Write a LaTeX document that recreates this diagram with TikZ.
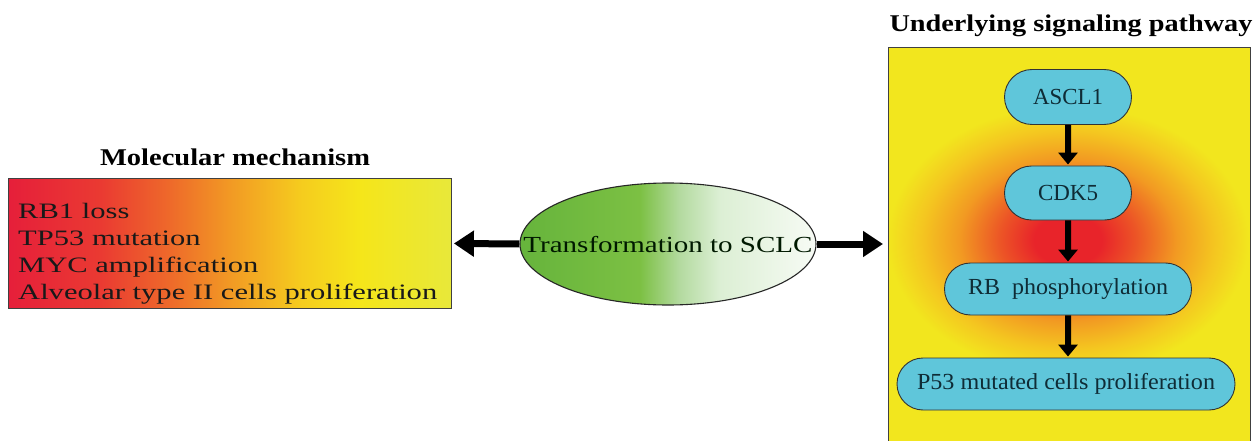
\documentclass[tikz,border=0pt]{standalone}
\usepackage{fontspec}
\setmainfont{Liberation Serif}
\usetikzlibrary{arrows.meta,shapes.geometric,shapes.misc}
\definecolor{gred}{HTML}{E8242A}
\definecolor{gredor}{HTML}{EC5426}
\definecolor{gorange}{HTML}{F29A22}
\definecolor{gyelor}{HTML}{F4C620}
\definecolor{gyel}{HTML}{F2E61E}
\definecolor{cyanbox}{HTML}{5FC6DA}
\definecolor{nodetext}{HTML}{0F2C36}
\definecolor{mr1}{HTML}{E61F3A}
\definecolor{mr2}{HTML}{EA3A32}
\definecolor{mr3}{HTML}{EE6A2A}
\definecolor{mr4}{HTML}{F29A24}
\definecolor{mr5}{HTML}{F5CC1E}
\definecolor{mr6}{HTML}{F5E61A}
\definecolor{mr7}{HTML}{E8E83A}
\definecolor{sg1}{HTML}{66B43C}
\definecolor{sg2}{HTML}{7CC043}
\definecolor{sg3}{HTML}{B3DA9F}
\definecolor{sg4}{HTML}{DCEFD4}
\definecolor{sg5}{HTML}{F7FBF5}
\pgfdeclarehorizontalshading{molgrad}{100bp}{color(0bp)=(mr1); color(25bp)=(mr1); color(35.4bp)=(mr2); color(43.3bp)=(mr3); color(50.1bp)=(mr4); color(58bp)=(mr5); color(64.7bp)=(mr6); color(75bp)=(mr7); color(100bp)=(mr7)}
\pgfdeclarehorizontalshading{sclcgrad}{100bp}{color(0bp)=(sg1); color(25bp)=(sg1); color(45.2bp)=(sg2); color(51.9bp)=(sg3); color(58.7bp)=(sg4); color(75bp)=(sg5); color(100bp)=(sg5)}
\pgfdeclareradialshading{glow}{\pgfpoint{0bp}{0bp}}{color(0bp)=(gred); color(4.5bp)=(gred); color(9bp)=(gredor); color(14.5bp)=(gorange); color(19.5bp)=(gyelor); color(24bp)=(gyel); color(25bp)=(gyel); color(50bp)=(gyel)}
\newcommand{\hfit}[2]{\resizebox{#1}{\height}{#2}}
\begin{document}
\begin{tikzpicture}[x=1pt,y=-1pt,
  titletext/.style={anchor=base, inner sep=0pt, font=\fontsize{24}{24}\selectfont\bfseries},
  pathnode/.style={rounded rectangle, draw=black!80, line width=0.9pt, fill=cyanbox, inner sep=0pt, text=nodetext, font=\fontsize{23}{23}\selectfont},
  harrow/.style={line width=7pt, -{Triangle[length=20pt,width=25pt]}},
  varrow/.style={line width=6pt, -{Triangle[length=12pt,width=19pt]}}
]
\useasboundingbox (0,0) rectangle (1259,441);
\fill[white] (0,0) rectangle (1259,441);

% left block
\node[titletext] (moltitle) at (235,166) {\hfit{270pt}{Molecular mechanism}};
\node[draw=black!75, line width=0.9pt, shading=molgrad, minimum width=443pt, minimum height=130pt, inner sep=0pt, anchor=north west] (mol) at (8,178) {};
\node[anchor=base west, inner sep=0pt, text=black!90] (mollist) at (18,218)
  {\hfit{419pt}{\fontsize{22}{27}\selectfont\begin{tabular}[t]{@{}l@{}}RB1 loss\\TP53 mutation\\MYC amplification\\Alveolar type II cells proliferation\end{tabular}}};

% central ellipse
\node[ellipse, draw=black!85, line width=1.1pt, shading=sclcgrad, minimum width=296pt, minimum height=122pt, inner sep=0pt] (sclc) at (668,244) {};
\node[anchor=base, inner sep=0pt, text=black!90!green, font=\fontsize{23}{23}\selectfont] (sclctext) at (668,252.5) {\hfit{289pt}{Transformation to SCLC}};

% right block
\node[titletext] (pathtitle) at (1071,32) {\hfit{363pt}{Underlying signaling pathway}};
\node[draw=black!75, line width=0.9pt, fill=gyel, minimum width=362pt, minimum height=403pt, inner sep=0pt, anchor=north west] (pathbox) at (888,47) {};
\begin{scope}
  \clip (889,48) rectangle (1249,441);
  \shade[shading=glow] (880,100) rectangle (1256,380);
\end{scope}

\node[pathnode, minimum width=127pt, minimum height=55pt] (ascl) at (1068,97) {\hfit{70pt}{ASCL1}};
\node[pathnode, minimum width=127pt, minimum height=54pt] (cdk) at (1068,193) {\hfit{60pt}{CDK5}};
\node[pathnode, minimum width=247pt, minimum height=52pt] (rb) at (1068,289) {\hfit{200pt}{RB\ \ phosphorylation}};
\node[pathnode, minimum width=338pt, minimum height=52pt] (p53) at (1066,384) {\hfit{298pt}{P53 mutated cells proliferation}};

% connectors
\draw[harrow, shorten >=2pt] (sclc.west) -- (mol.east);
\draw[harrow, shorten >=5pt] (sclc.east) -- (sclc.east -| pathbox.west);
\draw[varrow, shorten >=1pt] (ascl) -- (cdk);
\draw[varrow, shorten >=1pt] (cdk) -- (rb);
\draw[varrow, shorten >=1pt] (rb) -- (p53.north -| rb.south);
\end{tikzpicture}
\end{document}
